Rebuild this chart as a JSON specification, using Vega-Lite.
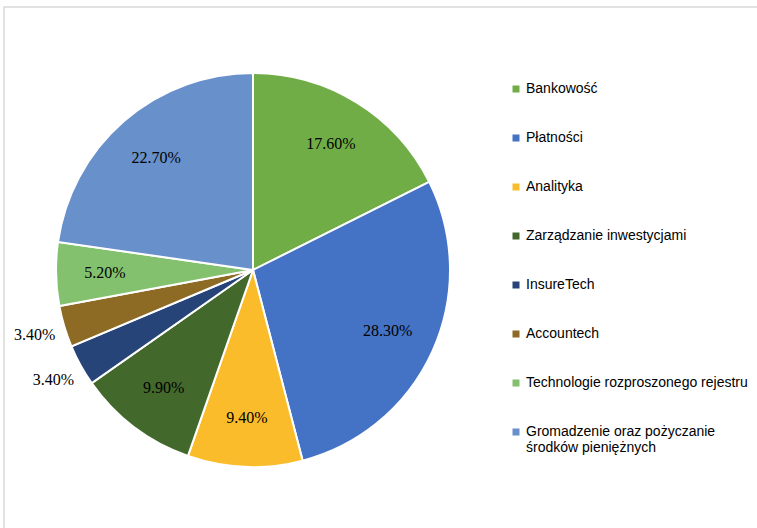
{
  "$schema": "https://vega.github.io/schema/vega-lite/v6.json",
  "width": 800,
  "height": 560,
  "autosize": {"type": "none"},
  "padding": {"left": 4, "top": 7, "right": 0, "bottom": 0},
  "background": "white",
  "view": {"stroke": "#d9d9d9", "strokeWidth": 1.5, "fill": "white"},
  "config": {"view": {"stroke": "#d9d9d9", "strokeWidth": 1.5}},
  "data": {
    "values": [
      {"idx": 1, "category": "Bankowość", "value": 17.6, "label": "17.60%"},
      {"idx": 2, "category": "Płatności", "value": 28.3, "label": "28.30%"},
      {"idx": 3, "category": "Analityka", "value": 9.4, "label": "9.40%"},
      {"idx": 4, "category": "Zarządzanie inwestycjami", "value": 9.9, "label": "9.90%"},
      {"idx": 5, "category": "InsureTech", "value": 3.4, "label": "3.40%"},
      {"idx": 6, "category": "Accountech", "value": 3.4, "label": "3.40%"},
      {"idx": 7, "category": "Technologie rozproszonego rejestru", "value": 5.2, "label": "5.20%"},
      {"idx": 8, "category": "Gromadzenie oraz pożyczanie środków pieniężnych", "value": 22.7, "label": "22.70%"}
    ]
  },
  "encoding": {
    "theta": {"field": "value", "type": "quantitative", "stack": true},
    "order": {"field": "idx", "type": "quantitative"}
  },
  "layer": [
    {
      "mark": {"type": "arc", "outerRadius": 197, "x": 249, "y": 263, "stroke": "white", "strokeWidth": 2},
      "encoding": {
        "color": {
          "field": "category",
          "type": "nominal",
          "scale": {
            "domain": ["Bankowość", "Płatności", "Analityka", "Zarządzanie inwestycjami", "InsureTech", "Accountech", "Technologie rozproszonego rejestru", "Gromadzenie oraz pożyczanie środków pieniężnych"],
            "range": ["#70AD47", "#4472C4", "#FBBC2C", "#43682B", "#264478", "#8E6B24", "#84C16E", "#6890CB"]
          },
          "legend": {
            "orient": "none",
            "legendX": 505,
            "legendY": 75,
            "title": null,
            "symbolType": "square",
            "symbolSize": 49,
            "symbolStrokeWidth": 0,
            "labelFont": "Liberation Sans",
            "labelFontSize": 14,
            "labelColor": "#000000",
            "labelLimit": 400,
            "labelOffset": 3,
            "rowPadding": 35,
            "labelExpr": "datum.label == 'Gromadzenie oraz pożyczanie środków pieniężnych' ? ['Gromadzenie oraz pożyczanie', 'środków pieniężnych'] : datum.label"
          }
        }
      }
    },
    {
      "mark": {"type": "text", "radius": 148, "x": 249, "y": 263, "font": "Liberation Serif", "fontSize": 16, "color": "#000000"},
      "encoding": {
        "text": {"condition": {"test": "datum.value < 4", "value": ""}, "field": "label", "type": "nominal"}
      }
    },
    {
      "mark": {"type": "text", "radius": 228, "x": 249, "y": 263, "font": "Liberation Serif", "fontSize": 16, "color": "#000000"},
      "encoding": {
        "text": {"condition": {"test": "datum.value >= 4", "value": ""}, "field": "label", "type": "nominal"}
      }
    }
  ]
}
